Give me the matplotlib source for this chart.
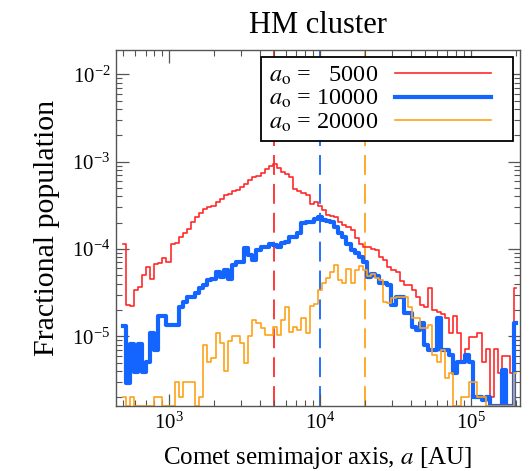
import numpy as np
import matplotlib
matplotlib.use("Agg")
import matplotlib.pyplot as plt
from matplotlib.ticker import LogLocator, NullFormatter
from matplotlib.legend_handler import HandlerLine2D

plt.rcParams['font.family'] = 'serif'
plt.rcParams['font.serif'] = ['Liberation Serif', 'DejaVu Serif']
plt.rcParams['mathtext.fontset'] = 'stix'

# ---- data -------------------------------------------------------------
a_min, a_max, n_bins = 500.0, 2.0e5, 97      # log-spaced bin centres [AU]
a_initial = [5000, 10000, 20000]
labels = [r"$a_{\rm o}$ =   5000", r"$a_{\rm o}$ = 10000", r"$a_{\rm o}$ = 20000"]
FLOOR = 1.6e-6   # empty bins drawn on the lower frame

frac_5000 = [1.14e-4, 2.28e-5, 2.22e-5, 3.39e-5, 3.67e-5, 5.04e-5, 6.22e-5, 4.53e-5, 6.73e-5, 6.91e-5,
             7.89e-5, 7.10e-5, 1.14e-4, 1.17e-4, 1.37e-4, 1.53e-4, 1.69e-4, 2.04e-4, 2.33e-4, 2.58e-4,
             2.87e-4, 3.03e-4, 3.11e-4, 3.45e-4, 3.74e-4, 4.16e-4, 4.27e-4, 4.62e-4, 4.74e-4, 5.13e-4,
             5.55e-4, 6.17e-4, 6.68e-4, 6.86e-4, 7.42e-4, 8.25e-4, 8.93e-4, 9.41e-4, 8.47e-4, 7.62e-4,
             7.23e-4, 6.68e-4, 4.87e-4, 4.62e-4, 4.38e-4, 4.16e-4, 3.28e-4, 3.45e-4, 3.11e-4, 2.80e-4,
             2.45e-4, 2.39e-4, 2.33e-4, 2.04e-4, 1.88e-4, 1.79e-4, 1.65e-4, 1.34e-4, 1.14e-4, 1.05e-4,
             1.05e-4, 1.00e-4, 9.74e-5, 8.10e-5, 7.48e-5, 6.22e-5, 5.75e-5, 5.45e-5, 4.30e-5, 3.87e-5,
             3.87e-5, 3.39e-5, 2.82e-5, 2.28e-5, 2.17e-5, 3.57e-5, 2.00e-5, 1.90e-5, 1.80e-5, 1.62e-5,
             1.09e-5, 1.71e-5, 1.09e-5, 5.08e-6, 7.15e-6, 9.82e-6, 9.82e-6, 1.09e-5, 5.08e-6, 7.15e-6,
             2.02e-6, 7.15e-6, 3.80e-6, 5.95e-6, 5.95e-6, 3.80e-6, 3.57e-5]

frac_10000 = [1.31e-5, 2.92e-6, 8.16e-6, 3.90e-6, 8.16e-6, 3.90e-6, 5.08e-6, 1.09e-5, 6.97e-6, 1.71e-5,
              1.71e-5, 1.35e-5, 1.35e-5, 1.35e-5, 2.17e-5, 2.47e-5, 2.82e-5, 2.82e-5, 3.13e-5, 3.57e-5,
              3.87e-5, 4.41e-5, 4.53e-5, 5.45e-5, 4.78e-5, 5.75e-5, 4.53e-5, 6.56e-5, 7.10e-5, 7.10e-5,
              1.03e-4, 8.54e-5, 7.48e-5, 9.74e-5, 1.05e-4, 1.05e-4, 1.14e-4, 1.11e-4, 1.05e-4, 1.17e-4,
              1.20e-4, 1.37e-4, 1.37e-4, 1.53e-4, 1.99e-4, 2.04e-4, 2.04e-4, 2.21e-4, 2.33e-4, 2.15e-4,
              2.09e-4, 2.04e-4, 1.79e-4, 1.53e-4, 1.37e-4, 1.14e-4, 9.74e-5, 9.00e-5, 8.10e-5, 7.10e-5,
              4.78e-5, 5.17e-5, 4.91e-5, 4.08e-5, 4.08e-5, 3.87e-5, 2.28e-5, 2.82e-5, 2.82e-5, 1.85e-5,
              1.85e-5, 1.28e-5, 1.18e-5, 1.42e-5, 7.95e-6, 6.97e-6, 6.97e-6, 1.62e-5, 6.97e-6, 6.97e-6,
              6.11e-6, 3.80e-6, 5.08e-6, 5.08e-6, 6.11e-6, 5.08e-6, 2.02e-6, 2.02e-6, 1.86e-6, 2.02e-6,
              FLOOR, FLOOR, FLOOR, 4.11e-6, FLOOR, FLOOR, 1.42e-5]

frac_20000 = [2.02e-6, FLOOR, 2.02e-6, FLOOR, FLOOR, FLOOR, FLOOR, FLOOR, 2.02e-6, 2.02e-6,
              FLOOR, FLOOR, FLOOR, 3.00e-6, 2.02e-6, 3.00e-6, 3.00e-6, 3.00e-6, FLOOR, 2.02e-6,
              7.95e-6, 5.08e-6, 5.64e-6, 1.09e-5, 8.38e-6, 4.00e-6, 8.83e-6, 1.01e-5, 1.01e-5, 8.38e-6,
              4.94e-6, 1.01e-5, 1.54e-5, 1.42e-5, 1.24e-5, 1.03e-5, 1.03e-5, 1.28e-5, 1.03e-5, 1.54e-5,
              2.17e-5, 1.12e-5, 1.28e-5, 1.18e-5, 1.62e-5, 1.09e-5, 2.22e-5, 2.34e-5, 3.39e-5, 4.08e-5,
              4.65e-5, 5.45e-5, 6.56e-5, 4.41e-5, 4.08e-5, 5.90e-5, 4.08e-5, 5.75e-5, 6.39e-5, 5.75e-5,
              4.91e-5, 5.17e-5, 4.65e-5, 4.41e-5, 2.47e-5, 2.41e-5, 2.75e-5, 2.82e-5, 2.82e-5, 2.82e-5,
              2.17e-5, 1.62e-5, 1.62e-5, 1.24e-5, 1.24e-5, 1.35e-5, 6.11e-6, 5.08e-6, 6.97e-6, 3.33e-6,
              3.80e-6, FLOOR, FLOOR, 2.02e-6, 2.02e-6, 3.00e-6, 3.00e-6, 2.02e-6, 2.02e-6, FLOOR,
              FLOOR, FLOOR, FLOOR, FLOOR, FLOOR, FLOOR, 3.80e-6]

series = [frac_5000, frac_10000, frac_20000]
colors = ['#ff2a2a', '#1464ff', '#ffa21a']
widths = [1.2, 3.0, 1.2]


class ShortLine(HandlerLine2D):
    """Legend line that leaves a gap before the right edge of the box."""
    def create_artists(self, legend, orig_handle, xdescent, ydescent, width,
                       height, fontsize, trans):
        return super().create_artists(legend, orig_handle, xdescent, ydescent,
                                      width * 0.87, height, fontsize, trans)


# ---- figure -----------------------------------------------------------
a_centres = np.logspace(np.log10(a_min), np.log10(a_max), n_bins)

fig = plt.figure(figsize=(5.32, 4.71), dpi=100)
ax = fig.add_axes([0.218, 0.138, 0.759, 0.756])

for a0, c in zip(a_initial, colors):
    ax.axvline(a0, color=c, lw=1.3, ls=(0, (11, 5)), zorder=1)

handles = []
for vals, c, w, lab in zip(series, colors, widths, labels):
    h, = ax.step(a_centres, vals, where='mid', color=c, lw=w, label=lab, zorder=2)
    handles.append(h)

ax.set_xscale('log')
ax.set_yscale('log')
ax.set_xlim(446, 2.11e5)
ax.set_ylim(1.59e-6, 1.9e-2)

for axis in (ax.xaxis, ax.yaxis):
    axis.set_major_locator(LogLocator(base=10, numticks=20))
    axis.set_minor_locator(LogLocator(base=10, subs=np.arange(2, 10), numticks=20))
    axis.set_minor_formatter(NullFormatter())

ax.tick_params(which='both', direction='in', top=True, right=True, colors='#555555',
               labelcolor='black')
ax.tick_params(which='major', length=9, width=0.9, labelsize=15)
ax.tick_params(which='minor', length=4.5, width=0.8)
ax.tick_params(axis='x', which='major', pad=5)
ax.tick_params(axis='y', which='major', pad=4)
for s in ax.spines.values():
    s.set_color('#555555')
    s.set_linewidth(1.0)

ax.set_title('HM cluster', fontsize=22, pad=12)
ax.set_xlabel(r'Comet semimajor axis, $a$ [AU]', fontsize=18, labelpad=8)
ax.set_ylabel('Fractional population', fontsize=21.5, labelpad=9)

leg = ax.legend(handles=handles, loc='upper right', bbox_to_anchor=(0.983, 0.98),
                borderaxespad=0, markerfirst=False, fontsize=17.5, handlelength=4.56,
                handletextpad=0.7, labelspacing=0.06, borderpad=0.3, fancybox=False,
                framealpha=1, edgecolor='black',
                handler_map={h: ShortLine() for h in handles})
leg.get_frame().set_linewidth(1.3)
leg.set_zorder(5)

fig.savefig('out.png', dpi=100)
